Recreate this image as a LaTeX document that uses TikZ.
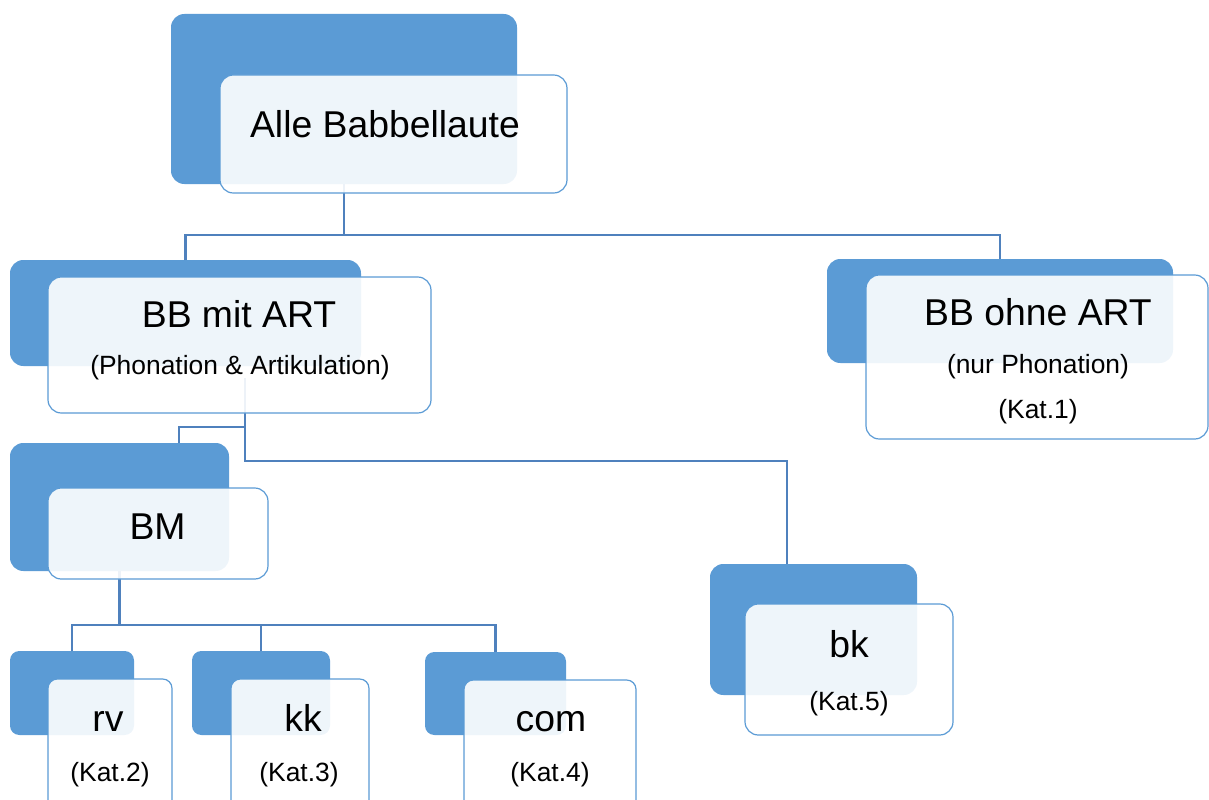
\documentclass[tikz,border=0pt]{standalone}
\usepackage{fontspec}
\setmainfont{Liberation Sans}
\definecolor{darkblue}{HTML}{5B9BD5}
\definecolor{edgeblue}{HTML}{5B9BD5}
\definecolor{linkblue}{HTML}{4F81BD}
\tikzset{
 darkbox/.style={fill=darkblue, rounded corners=10pt, inner sep=0pt, outer sep=0pt},
 lightbox/.style={draw=edgeblue, line width=0.9pt, fill=white, fill opacity=0.9, rounded corners=10pt, inner sep=0pt, outer sep=0pt},
 smallcorner/.style={rounded corners=7pt},
 bigtext/.style={font=\fontsize{28pt}{30pt}\selectfont, anchor=base, inner sep=0pt},
 smalltext/.style={font=\fontsize{19.8pt}{22pt}\selectfont, anchor=base, inner sep=0pt},
 conn/.style={draw=linkblue, line width=2pt},
 thinconn/.style={draw=linkblue, line width=1pt},
}
\newcommand{\bx}[6]{\node[#2, minimum width={(#5-#3)*0.75pt}, minimum height={(#6-#4)*0.75pt}] (#1) at ({(#3+#5)/2},{(#4+#6)/2}) {};}
\begin{document}
\begin{tikzpicture}[x=0.75pt,y=-0.75pt]
\useasboundingbox (0,0) rectangle (1209,799);
% dark boxes
\bx{topD}{darkbox}{171}{14}{517}{184}
\bx{artD}{darkbox}{10}{260}{361}{366}
\bx{ohneD}{darkbox}{827}{259}{1173}{363}
\bx{bmD}{darkbox}{10}{443}{229}{571}
\bx{rvD}{darkbox,smallcorner}{10}{651}{134}{735}
\bx{kkD}{darkbox,smallcorner}{192}{651}{330}{735}
\bx{comD}{darkbox,smallcorner}{425}{652}{566}{735}
\bx{bkD}{darkbox}{710}{564}{917}{695}
% connectors
\coordinate (j1) at (343,235);
\draw[conn] (topD.south) -- (topD.south |- j1);
\draw[conn] (artD.north) -- (artD.north |- j1) -- (ohneD.north |- j1) -- (ohneD.north);
\coordinate (a1) at (245,378);
\coordinate (a2) at (179,427);
\coordinate (a3) at (787,461);
\coordinate (a4) at (787,483);
\draw[conn] (a1) -- (a1 |- a3) -- (a3) -- (a4);
\draw[thinconn] (a4) -- (a4 |- bkD.north);
\draw[conn] (a1 |- a2) -- (a2) -- (a2 |- bmD.north);
\coordinate (b1) at (0,625);
\draw[conn] (bmD.south) -- (bmD.south |- b1);
\draw[conn] (rvD.north) -- (rvD.north |- b1) -- (comD.north |- b1) -- (comD.north);
\draw[conn] (kkD.north) -- (kkD.north |- b1);
% light boxes
\bx{topL}{lightbox}{220}{75}{567}{193}
\bx{artL}{lightbox}{48}{277}{431}{413}
\bx{ohneL}{lightbox}{866}{275}{1208}{439}
\bx{bmL}{lightbox}{48}{488}{268}{579}
\bx{rvL}{lightbox,smallcorner}{48}{679}{172}{812}
\bx{kkL}{lightbox,smallcorner}{231}{679}{369}{812}
\bx{comL}{lightbox,smallcorner}{464}{680}{636}{812}
\bx{bkL}{lightbox}{745}{604}{953}{735}
% texts
\node[bigtext] (t1) at (385,137) {Alle Babbellaute};
\node[bigtext] (t2) at (239,327) {BB mit ART};
\node[smalltext] (t3) at (240,374) {(Phonation \& Artikulation)};
\node[bigtext] (t4) at (1038,325) {BB ohne ART};
\node[smalltext] (t5) at (1038,373) {(nur Phonation)};
\node[smalltext] (t6) at (1038,418) {(Kat.1)};
\node[bigtext] (t7) at (157.5,539) {BM};
\node[bigtext] (t8) at (108,731) {rv};
\node[smalltext] (t9) at (110,781) {(Kat.2)};
\node[bigtext] (t10) at (303,731) {kk};
\node[smalltext] (t11) at (299,781) {(Kat.3)};
\node[bigtext] (t12) at (551,731) {com};
\node[smalltext] (t13) at (550,781) {(Kat.4)};
\node[bigtext] (t14) at (849,657) {bk};
\node[smalltext] (t15) at (849,710) {(Kat.5)};
\end{tikzpicture}
\end{document}
